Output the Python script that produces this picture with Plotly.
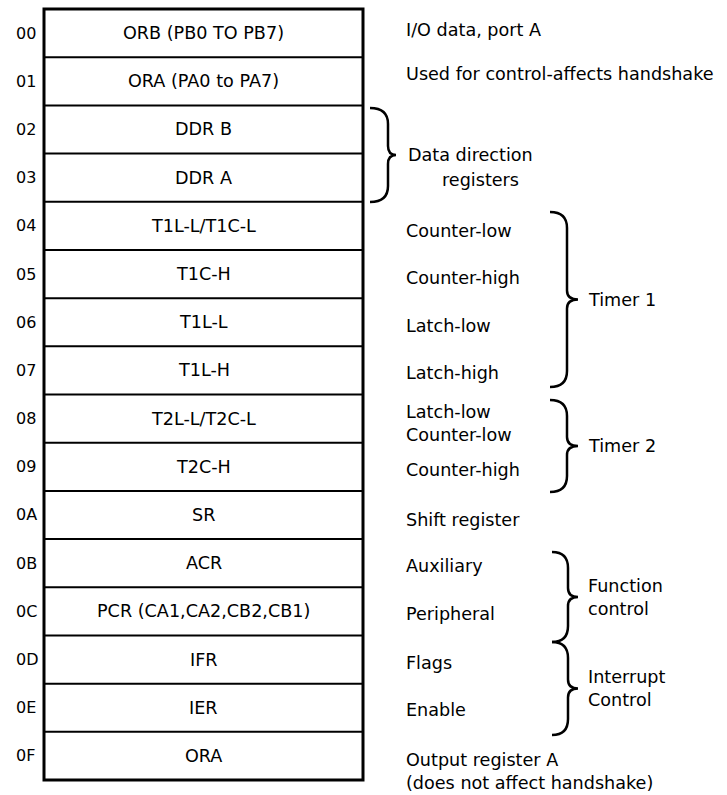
import plotly.graph_objects as go

# ---- data ----
addresses = ["00", "01", "02", "03", "04", "05", "06", "07",
             "08", "09", "0A", "0B", "0C", "0D", "0E", "0F"]
registers = ["ORB (PB0 TO PB7)", "ORA (PA0 to PA7)", "DDR B", "DDR A",
             "T1L-L/T1C-L", "T1C-H", "T1L-L", "T1L-H",
             "T2L-L/T2C-L", "T2C-H", "SR", "ACR",
             "PCR (CA1,CA2,CB2,CB1)", "IFR", "IER", "ORA"]
descriptions = ["I/O data, port A", "Used for control-affects handshake", "", "",
                "Counter-low", "Counter-high", "Latch-low", "Latch-high",
                "Latch-low<br>Counter-low", "Counter-high", "Shift register", "Auxiliary",
                "Peripheral", "Flags", "Enable",
                "Output register A<br>(does not affect handshake)"]
# groups: (first row, last row, label)
groups = [(2, 3, "Data direction"), (4, 7, "Timer 1"), (8, 9, "Timer 2"),
          (11, 12, "Function<br>control"), (13, 14, "Interrupt<br>Control")]

# ---- layout constants (pixels) ----
W, H = 727, 795
BOX_L, BOX_R = 44, 363
TOP, BOTTOM = 9, 780
ROW_H = (BOTTOM - TOP) / len(addresses)
FONT = "DejaVu Sans"
FS = 17.6
FS_ADDR = 16
desc_nudge = [-3, -7, 0, 0, 5, 4, 4, 3, 5, 3, 5, 3, 3, 3, 2, 16]

fig = go.Figure()
shapes = []
# outer box
shapes.append(dict(type="rect", xref="x", yref="y", x0=BOX_L, x1=BOX_R,
                   y0=TOP, y1=BOTTOM, line=dict(color="black", width=3)))
annotations = []
for i, (a, r, d) in enumerate(zip(addresses, registers, descriptions)):
    yc = TOP + (i + 0.5) * ROW_H
    if i > 0:
        y = TOP + i * ROW_H
        shapes.append(dict(type="line", xref="x", yref="y", x0=BOX_L, x1=BOX_R,
                           y0=y, y1=y, line=dict(color="black", width=2)))
    annotations.append(dict(x=14, y=yc, text=a, xanchor="left", yanchor="middle",
                            showarrow=False, font=dict(size=FS_ADDR, family=FONT, color="black")))
    annotations.append(dict(x=(BOX_L + BOX_R) / 2, y=yc, text=r, xanchor="center",
                            yanchor="middle", showarrow=False,
                            font=dict(size=FS, family=FONT, color="black")))
    if d:
        annotations.append(dict(x=404, y=yc + desc_nudge[i], text=d, xanchor="left",
                                yanchor="middle", align="left", showarrow=False,
                                font=dict(size=FS, family=FONT, color="black")))


def brace(y0, y1, xe, xs, xt, ym):
    r = 16
    r2 = 9
    return (f"M {xe},{y0} Q {xs},{y0} {xs},{y0 + r} "
            f"L {xs},{ym - r2} Q {xs},{ym} {xt},{ym} "
            f"Q {xs},{ym} {xs},{ym + r2} L {xs},{y1 - r} "
            f"Q {xs},{y1} {xe},{y1}")

brace_geom = {  # group index -> (y0, y1, x_end, x_spine, x_tip)
    0: (108, 202, 370, 388, 396),
    1: (212, 387, 550, 567, 578),
    2: (400, 492, 550, 567, 578),
    3: (552, 642, 552, 568, 578),
    4: (642, 735, 552, 568, 578),
}
for gi, (r0, r1, label) in enumerate(groups):
    y0, y1, xe, xs, xt = brace_geom[gi]
    ym = (y0 + y1) / 2
    shapes.append(dict(type="path", xref="x", yref="y", path=brace(y0, y1, xe, xs, xt, ym),
                       line=dict(color="black", width=2.5)))
    if gi == 0:
        annotations.append(dict(x=406, y=ym, text=label, xanchor="left", yanchor="middle",
                                showarrow=False, font=dict(size=FS, family=FONT, color="black")))
        annotations.append(dict(x=440, y=ym + 25, text="registers", xanchor="left",
                                yanchor="middle", showarrow=False,
                                font=dict(size=FS, family=FONT, color="black")))
    else:
        annotations.append(dict(x=586, y=ym, text=label, xanchor="left", yanchor="middle",
                                align="left", showarrow=False,
                                font=dict(size=FS, family=FONT, color="black")))

fig.update_layout(
    width=W, height=H, margin=dict(l=0, r=0, t=0, b=0),
    paper_bgcolor="white", plot_bgcolor="white",
    xaxis=dict(range=[0, W], visible=False, fixedrange=True),
    yaxis=dict(range=[H, 0], visible=False, fixedrange=True),
    shapes=shapes, annotations=annotations, showlegend=False,
)
fig.write_html("out.html", config={"displayModeBar": False},
               post_script="document.body.style.margin='0';document.body.style.overflow='hidden';")
